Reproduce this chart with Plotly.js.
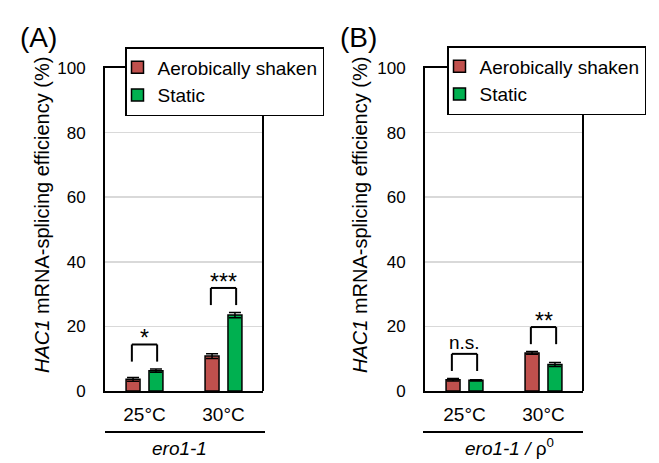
<!DOCTYPE html>
<html>
<head>
<meta charset="utf-8">
<script src="https://cdn.plot.ly/plotly-3.0.1.min.js"></script>
<style>html,body{margin:0;padding:0;background:#fff;}#chart{width:659px;height:463px;}</style>
</head>
<body>
<div id="chart"></div>
<script>
// ---- data ----
const categories = ['25°C', '30°C'];
const seriesNames = ['Aerobically shaken', 'Static'];
const A_shaken = [3.6, 10.8];
const A_shaken_err = [0.6, 0.7];
const A_static = [6.3, 23.5];
const A_static_err = [0.5, 0.8];
const B_shaken = [3.5, 11.8];
const B_shaken_err = [0.4, 0.4];
const B_static = [3.3, 8.2];
const B_static_err = [0.2, 0.6];
const A_sig = ['*', '***'];
const B_sig = ['n.s.', '**'];
const yTicks = [0, 20, 40, 60, 80, 100];
const panelLabels = ['(A)', '(B)'];
const strainLabels = ['<i>ero1-1</i>', '<i>ero1-1 /</i> ρ<sup>0</sup>'];
const yTitle = '<i>HAC1</i> mRNA-splicing efficiency (%)';

// ---- styling ----
const W = 659, H = 463;
const px = x => x / W;
const py = y => 1 - y / H;
const RED = '#C0504D', GREEN = '#00B050';
const FONT = 'Liberation Sans, Arial, sans-serif';

function barTrace(name, y, err, color, xa, ya, leg) {
  return {
    type: 'bar', name: name, x: categories, y: y,
    xaxis: xa, yaxis: ya, legend: leg,
    marker: {color: color, line: {color: '#000', width: 1.5}},
    error_y: {type: 'data', array: err, visible: true, color: '#000', thickness: 1.5, width: 6}
  };
}

const data = [
  barTrace(seriesNames[0], A_shaken, A_shaken_err, RED, 'x', 'y', 'legend'),
  barTrace(seriesNames[1], A_static, A_static_err, GREEN, 'x', 'y', 'legend'),
  barTrace(seriesNames[0], B_shaken, B_shaken_err, RED, 'x2', 'y2', 'legend2'),
  barTrace(seriesNames[1], B_static, B_static_err, GREEN, 'x2', 'y2', 'legend2')
];

function xAxis(domain, anchor) {
  return {
    domain: domain, anchor: anchor, type: 'category', range: [-0.5, 1.5],
    showline: true, mirror: true, linecolor: '#000', linewidth: 2,
    showgrid: false, zeroline: false, ticks: '', fixedrange: true,
    tickfont: {family: FONT, size: 19, color: '#000'}, ticklabelstandoff: 5
  };
}
function yAxis(domain, anchor) {
  return {
    domain: domain, anchor: anchor, range: [0, 100], tickvals: yTicks,
    showline: true, mirror: false, linecolor: '#000', linewidth: 2,
    showgrid: true, gridcolor: '#d9d9d9', gridwidth: 1.5, zeroline: false,
    ticks: 'outside', ticklen: 14, tickcolor: 'rgba(0,0,0,0)',
    tickfont: {family: FONT, size: 17, color: '#000'}
  };
}

const yDom = [py(391), py(68)];
const shapes = [];
const annotations = [];

function addBrackets(xref, yref, s1, e1, s2, e2, sig) {
  for (let i = 0; i < categories.length; i++) {
    const top = Math.max(s1[i] + e1[i], s2[i] + e2[i]);
    const legB = top + 2.3, legT = legB + 5.3;
    const xl = i - 0.16, xr = i + 0.16;
    const ln = {color: '#000', width: 2};
    shapes.push({type: 'line', xref: xref, yref: yref, x0: xl, x1: xl, y0: legB, y1: legT, line: ln});
    shapes.push({type: 'line', xref: xref, yref: yref, x0: xr, x1: xr, y0: legB, y1: legT, line: ln});
    shapes.push({type: 'line', xref: xref, yref: yref, x0: xl, x1: xr, y0: legT, y1: legT, line: ln});
    const isStar = sig[i].indexOf('*') >= 0;
    annotations.push({
      xref: xref, yref: yref, x: i, y: legT, text: sig[i], showarrow: false,
      xanchor: 'center', yanchor: 'bottom', yshift: isStar ? -9 : -1,
      font: {family: FONT, size: isStar ? 23 : 19, color: '#000'}
    });
  }
}
addBrackets('x', 'y', A_shaken, A_shaken_err, A_static, A_static_err, A_sig);
addBrackets('x2', 'y2', B_shaken, B_shaken_err, B_static, B_static_err, B_sig);

// right frame line (mirror of y axis)
shapes.push({type: 'line', xref: 'paper', yref: 'paper', x0: px(263), x1: px(263), y0: yDom[0], y1: yDom[1], line: {color: '#000', width: 2}});
shapes.push({type: 'line', xref: 'paper', yref: 'paper', x0: px(583), x1: px(583), y0: yDom[0], y1: yDom[1], line: {color: '#000', width: 2}});

// strain underline + labels
shapes.push({type: 'line', xref: 'paper', yref: 'paper', x0: px(105), x1: px(265), y0: py(432), y1: py(432), line: {color: '#000', width: 2}});
shapes.push({type: 'line', xref: 'paper', yref: 'paper', x0: px(423), x1: px(583), y0: py(432), y1: py(432), line: {color: '#000', width: 2}});
annotations.push({xref: 'paper', yref: 'paper', x: px(180), y: py(448), text: strainLabels[0], showarrow: false, xanchor: 'center', yanchor: 'middle', font: {family: FONT, size: 19, color: '#000'}});
annotations.push({xref: 'paper', yref: 'paper', x: px(509), y: py(447), text: strainLabels[1], showarrow: false, xanchor: 'center', yanchor: 'middle', font: {family: FONT, size: 19, color: '#000'}});

// panel labels
annotations.push({xref: 'paper', yref: 'paper', x: px(18), y: py(37), text: panelLabels[0], showarrow: false, xanchor: 'left', yanchor: 'middle', font: {family: FONT, size: 28, color: '#000'}});
annotations.push({xref: 'paper', yref: 'paper', x: px(338), y: py(37), text: panelLabels[1], showarrow: false, xanchor: 'left', yanchor: 'middle', font: {family: FONT, size: 28, color: '#000'}});

// y titles
annotations.push({xref: 'paper', yref: 'paper', x: px(42), y: py(215), text: yTitle, showarrow: false, textangle: -90, xanchor: 'center', yanchor: 'middle', font: {family: FONT, size: 20, color: '#000'}});
annotations.push({xref: 'paper', yref: 'paper', x: px(360), y: py(215), text: yTitle, showarrow: false, textangle: -90, xanchor: 'center', yanchor: 'middle', font: {family: FONT, size: 20, color: '#000'}});

const legendStyle = (x, y) => ({
  x: x, y: y, xanchor: 'left', yanchor: 'top', xref: 'paper', yref: 'paper',
  bgcolor: '#fff', bordercolor: '#000', borderwidth: 1.5,
  font: {family: FONT, size: 19, color: '#000'}, itemwidth: 30, tracegroupgap: 0,
  indentation: -9
});

const layout = {
  width: W, height: H,
  margin: {l: 0, r: 0, t: 0, b: 0},
  paper_bgcolor: '#fff', plot_bgcolor: '#fff',
  font: {family: FONT, size: 18, color: '#000'},
  barmode: 'group', bargap: 0.42, bargroupgap: 0.39,
  xaxis: xAxis([px(105), px(263)], 'y'),
  yaxis: yAxis(yDom, 'x'),
  xaxis2: xAxis([px(425), px(583)], 'y2'),
  yaxis2: yAxis(yDom, 'x2'),
  showlegend: true,
  legend: legendStyle(px(125), py(47)),
  legend2: legendStyle(px(447), py(46)),
  shapes: shapes,
  annotations: annotations
};

Plotly.newPlot('chart', data, layout, {staticPlot: true, displayModeBar: false});
</script>
</body>
</html>
